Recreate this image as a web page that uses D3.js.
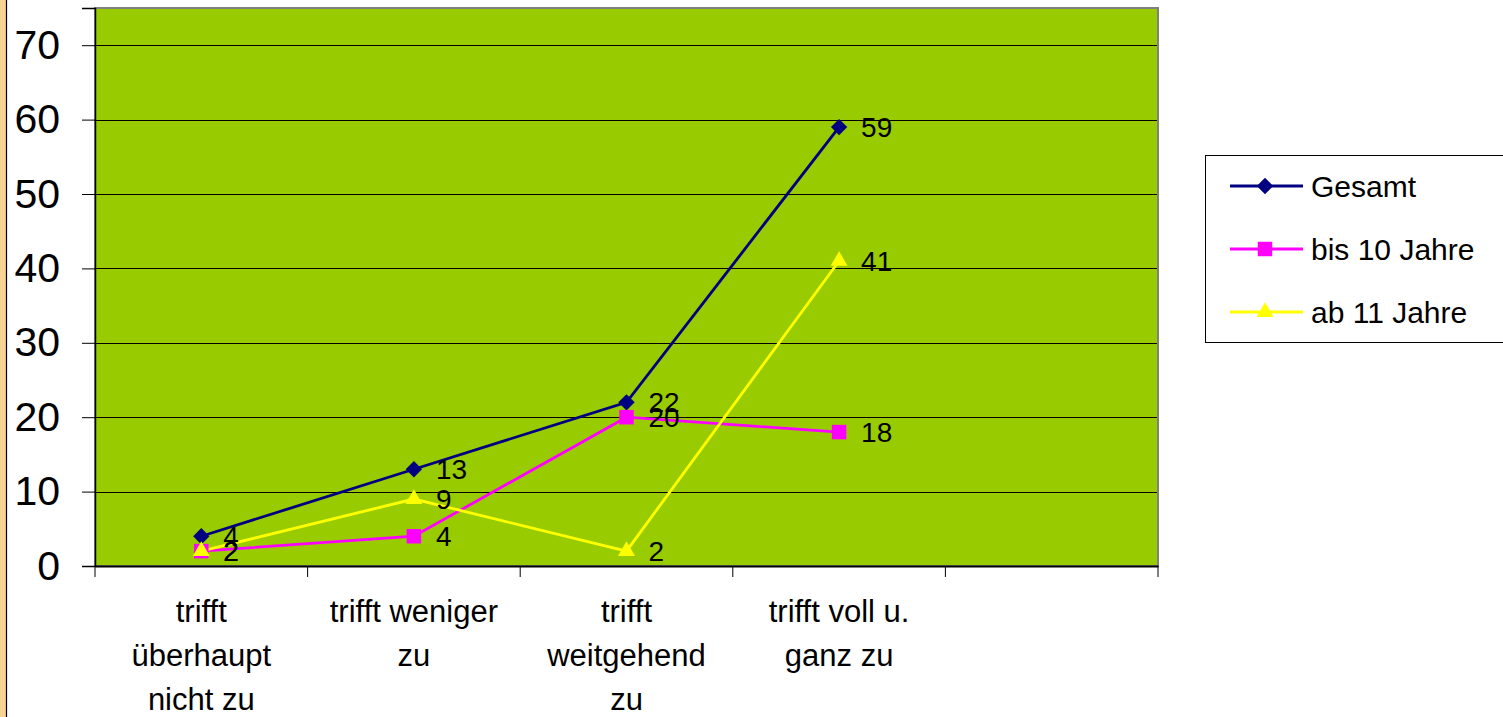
<!DOCTYPE html>
<html>
<head>
<meta charset="utf-8">
<script src="https://cdn.jsdelivr.net/npm/d3@7"></script>
<style>
  body { margin: 0; background: #fff; }
  svg { display: block; font-family: "Liberation Sans", Arial, sans-serif; }
</style>
</head>
<body>
<svg id="viz" width="1503" height="717"></svg>
<script>
// data
var categories = [["trifft", "überhaupt", "nicht zu"], ["trifft weniger", "zu"], ["trifft", "weitgehend", "zu"], ["trifft voll u.", "ganz zu"], [""]]
var seriesNames = ["Gesamt", "bis 10 Jahre", "ab 11 Jahre"]
var gesamt = [4, 13, 22, 59]
var bis10 = [2, 4, 20, 18]
var ab11 = [2, 9, 2, 41]
var yTicks = [0, 10, 20, 30, 40, 50, 60, 70]

var colors = ["#000080", "#FF00FF", "#FFFF00"]
var symbols = [d3.symbolDiamond2, d3.symbolSquare, d3.symbolTriangle]
var series = [gesamt, bis10, ab11]

var svg = d3.select("#viz")

// textured strip at the left edge
svg.append("rect").attr("x", 0).attr("y", 0).attr("width", 6).attr("height", 717).attr("fill", "#F8D394")
svg.append("line").attr("x1", 6.5).attr("x2", 6.5).attr("y1", 0).attr("y2", 717).attr("stroke", "#000").attr("stroke-width", 1.2)

var pLeft = 95, pRight = 1158, pTop = 8, pBottom = 566

var x = d3.scaleBand().domain(d3.range(categories.length)).range([pLeft, pRight])
var y = d3.scaleLinear().domain([0, 75]).range([pBottom, pTop])

svg.append("rect")
  .attr("x", pLeft).attr("y", pTop)
  .attr("width", pRight - pLeft).attr("height", pBottom - pTop)
  .attr("fill", "#99CC00")

// gridlines
svg.append("g").selectAll("line")
  .data(yTicks.filter(d => d > 0))
  .join("line")
  .attr("x1", pLeft).attr("x2", pRight)
  .attr("y1", d => Math.round(y(d)) + 0.5).attr("y2", d => Math.round(y(d)) + 0.5)
  .attr("stroke", "#000").attr("stroke-width", 1)

// plot border
svg.append("rect")
  .attr("x", pLeft).attr("y", pTop)
  .attr("width", pRight - pLeft).attr("height", pBottom - pTop)
  .attr("fill", "none").attr("stroke", "#808080").attr("stroke-width", 2)

// y axis
var yAxis = d3.axisLeft(y).tickValues(yTicks).tickSize(13).tickPadding(22)
var gy = svg.append("g").attr("transform", `translate(${pLeft},0)`).call(yAxis)
gy.select(".domain").attr("stroke", "#000").attr("stroke-width", 1.5)
gy.selectAll(".tick line").attr("stroke", "#000")
gy.selectAll(".tick text").attr("font-size", 41).attr("fill", "#000").attr("font-family", "Liberation Sans, Arial, sans-serif")

// x axis
var xAxis = d3.axisBottom(x).tickSize(0).tickFormat("")
var gx = svg.append("g").attr("transform", `translate(0,${pBottom})`).call(xAxis)
gx.select(".domain").attr("stroke", "#000").attr("stroke-width", 2)
var xTickPos = d3.range(categories.length + 1).map(i => i < categories.length ? x(i) : x(categories.length - 1) + x.bandwidth())
svg.append("g").selectAll("line")
  .data(xTickPos)
  .join("line")
  .attr("x1", d => d).attr("x2", d => d)
  .attr("y1", pBottom).attr("y2", pBottom + 11)
  .attr("stroke", "#000").attr("stroke-width", 1)

// category labels
categories.forEach((lines, i) => {
  var t = svg.append("text")
    .attr("text-anchor", "middle")
    .attr("font-size", 31)
    .attr("fill", "#000")
  lines.forEach((ln, j) => {
    t.append("tspan")
      .attr("x", x(i) + x.bandwidth() / 2)
      .attr("y", 622 + j * 44)
      .text(ln)
  })
})

var line = d3.line().x((d, i) => x(i) + x.bandwidth() / 2).y(d => y(d))

series.forEach((vals, s) => {
  svg.append("path")
    .attr("d", line(vals))
    .attr("fill", "none")
    .attr("stroke", colors[s])
    .attr("stroke-width", 2.8)
})

var symSizes = [170, 210, 125]
series.forEach((vals, s) => {
  svg.append("g").selectAll("path")
    .data(vals)
    .join("path")
    .attr("transform", (d, i) => `translate(${x(i) + x.bandwidth() / 2},${y(d)})`)
    .attr("d", d3.symbol().type(symbols[s]).size(symSizes[s]))
    .attr("fill", colors[s])
})

series.forEach((vals, s) => {
  svg.append("g").selectAll("text")
    .data(vals)
    .join("text")
    .attr("x", (d, i) => x(i) + x.bandwidth() / 2 + 22)
    .attr("y", d => y(d))
    .attr("dy", "0.36em")
    .attr("font-size", 28)
    .attr("fill", "#000")
    .text(d => d)
})

// legend
var legend = svg.append("g")
legend.append("rect")
  .attr("x", 1205.5).attr("y", 155.5)
  .attr("width", 310).attr("height", 187)
  .attr("fill", "#fff").attr("stroke", "#000").attr("stroke-width", 1)
var legendY = d3.scalePoint().domain(seriesNames).range([186, 312])
seriesNames.forEach((name, s) => {
  var ly = legendY(name)
  legend.append("line")
    .attr("x1", 1230).attr("x2", 1303)
    .attr("y1", ly).attr("y2", ly)
    .attr("stroke", colors[s]).attr("stroke-width", 2.8)
  legend.append("path")
    .attr("transform", `translate(1265,${ly})`)
    .attr("d", d3.symbol().type(symbols[s]).size(symSizes[s]))
    .attr("fill", colors[s])
  legend.append("text")
    .attr("x", 1311).attr("y", ly)
    .attr("dy", "0.36em")
    .attr("font-size", 30)
    .attr("fill", "#000")
    .text(name)
})
</script>
</body>
</html>
